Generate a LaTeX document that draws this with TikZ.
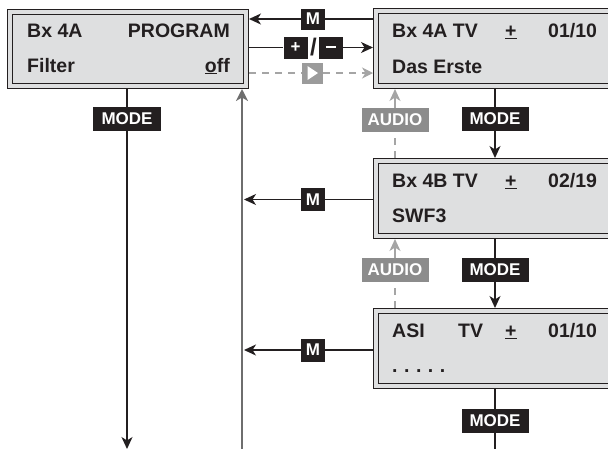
\documentclass[tikz,border=0pt]{standalone}
\usepackage{fontspec}
\setmainfont{Liberation Sans}
\usetikzlibrary{arrows.meta}
\definecolor{ink}{RGB}{35,31,32}
\definecolor{lcd}{RGB}{222,223,224}
\definecolor{gAudio}{RGB}{140,140,140}
\definecolor{gPlay}{RGB}{155,155,155}
\definecolor{gDash}{RGB}{165,165,165}
\definecolor{gLine}{RGB}{110,110,110}
\newcommand{\plusminus}{\underline{+}}
\begin{document}
\begin{tikzpicture}[x=1pt,y=-1pt,
  lcdbox/.style={draw=ink, line width=1.4pt, double=lcd, double distance=3.2pt, fill=lcd, inner sep=0pt, outer sep=3pt},
  lcdtxt/.style={font=\fontsize{19.5}{22}\selectfont\bfseries, text=ink, inner sep=0pt, anchor=base west},
  keybox/.style={fill=ink, text=white, font=\fontsize{17}{18}\selectfont\bfseries, inner sep=0pt, minimum height=23pt},
  graykey/.style={fill=gAudio, text=white, font=\fontsize{17}{18}\selectfont\bfseries, inner sep=0pt, minimum height=24pt},
  conn/.style={draw=ink, line width=1.4pt},
  dconn/.style={draw=gDash, line width=1.2pt, dash pattern=on 7pt off 6pt},
  arr/.style={-{Stealth[length=12pt,width=11pt,inset=3.5pt]}}
]
\useasboundingbox (0,0) rectangle (608,448);
\clip (0,0) rectangle (608,448);

% LCD boxes
\node[lcdbox, minimum width=236pt, minimum height=74pt] (L) at (128,49) {};
\node[lcdbox, minimum width=249pt, minimum height=75pt] (R1) at (500.5,48.5) {};
\node[lcdbox, minimum width=249pt, minimum height=75pt] (R2) at (500.5,198.5) {};
\node[lcdbox, minimum width=249pt, minimum height=75pt] (R3) at (500.5,348.5) {};

% texts left box
\node[lcdtxt] (l1a) at (27,37) {Bx 4A};
\node[lcdtxt, anchor=base east] (l1b) at (230,37) {PROGRAM};
\node[lcdtxt] (l2a) at (27,72) {Filter};
\node[lcdtxt, anchor=base east] (l2b) at (230,72) {\underline{o}ff};

% texts box 1
\node[lcdtxt] (a1) at (392,37) {Bx 4A TV};
\node[lcdtxt] (a2) at (505,37) {\plusminus};
\node[lcdtxt] (a3) at (548,37) {01/10};
\node[lcdtxt] (a4) at (392,73) {Das Erste};
% texts box 2
\node[lcdtxt] (b1) at (392,187) {Bx 4B TV};
\node[lcdtxt] (b2) at (505,187) {\plusminus};
\node[lcdtxt] (b3) at (548,187) {02/19};
\node[lcdtxt] (b4) at (392,222) {SWF3};
% texts box 3
\node[lcdtxt] (c1) at (392,337) {ASI};
\node[lcdtxt] (c1b) at (458,337) {TV};
\node[lcdtxt] (c2) at (505,337) {\plusminus};
\node[lcdtxt] (c3) at (548,337) {01/10};
\node[lcdtxt] (c4) at (392,372) {.\hspace{6.5pt}.\hspace{6.5pt}.\hspace{6.5pt}.\hspace{6.5pt}.};

% keys
\node[keybox, minimum width=24pt, minimum height=21pt] (M1) at (313,19) {M};
\node[keybox, minimum width=24pt, minimum height=22pt] (P) at (295.5,47.5) {+};
\node[font=\fontsize{24}{24}\selectfont\bfseries, text=ink, inner sep=0pt] (S) at (313.5,47.5) {/};
\node[keybox, minimum width=24pt, minimum height=22pt] (Mi) at (331,47.5) {\raisebox{1pt}{\rule{10pt}{2.4pt}}};
\node[fill=gPlay, minimum width=21pt, minimum height=21pt, inner sep=0pt] (Pl) at (312.5,73) {};
\fill[white] ([shift={(-5,-7)}]Pl.center) -- ([shift={(-5,7)}]Pl.center) -- ([shift={(5.5,0)}]Pl.center) -- cycle;

\node[keybox, minimum width=24pt] (M2) at (313,199.5) {M};
\node[keybox, minimum width=24pt] (M3) at (313,350) {M};

\node[graykey, minimum width=67pt] (A1) at (395,120) {AUDIO};
\node[graykey, minimum width=67pt] (A2) at (395,270) {AUDIO};

\node[keybox, minimum width=67pt, minimum height=24pt] (MD1) at (495,119) {MODE};
\node[keybox, minimum width=67pt, minimum height=24pt] (MD2) at (495,270) {MODE};
\node[keybox, minimum width=67pt, minimum height=24pt] (MD3) at (495,421) {MODE};
\node[keybox, minimum width=68pt, minimum height=24pt] (ML) at (127,119) {MODE};

\coordinate (bot) at (0,449);
\coordinate (gv) at (242,449);

% connectors top
\draw[conn] (R1.west |- M1) -- (M1.east);
\draw[conn, arr] (M1.west) -- (L.east |- M1);
\draw[conn] (L.east |- P) -- (P.west);
\draw[conn, arr] (Mi.east) -- (R1.west |- Mi);
\draw[dconn] (L.east |- Pl) -- (Pl.west);
\draw[dconn, -{Stealth[length=11pt,width=11pt,inset=3.5pt]}] (Pl.east) -- (R1.west |- Pl);

% audio
\draw[dconn] (A1 |- R2.north) -- (A1.south);
\draw[dconn, arr, dash pattern=on 20pt off 0pt] (A1.north) -- (A1 |- R1.south);
\draw[dconn] (A2 |- R3.north) -- (A2.south);
\draw[dconn, arr, dash pattern=on 20pt off 0pt] (A2.north) -- (A2 |- R2.south);

% mode chains
\draw[conn] (MD1 |- R1.south) -- (MD1.north);
\draw[conn, arr] (MD1.south) -- (MD1 |- R2.north);
\draw[conn] (MD2 |- R2.south) -- (MD2.north);
\draw[conn, arr] (MD2.south) -- (MD2 |- R3.north);
\draw[conn] (MD3 |- R3.south) -- (MD3.north);
\draw[conn] (MD3.south) -- (MD3 |- bot);

\draw[conn] (ML |- L.south) -- (ML.north);
\draw[conn, arr] (ML.south) -- (ML |- bot);

% gray return line
\draw[draw=gLine, line width=2pt, -{Stealth[length=12pt,width=12pt,inset=3.5pt]}] (gv) -- (gv |- L.south);

% M arrows from lower boxes
\draw[conn] (R2.west |- M2) -- (M2.east);
\draw[conn, arr] (M2.west) -- ([xshift=2pt]gv |- M2);
\draw[conn] (R3.west |- M3) -- (M3.east);
\draw[conn, arr] (M3.west) -- ([xshift=2pt]gv |- M3);
\end{tikzpicture}
\end{document}
